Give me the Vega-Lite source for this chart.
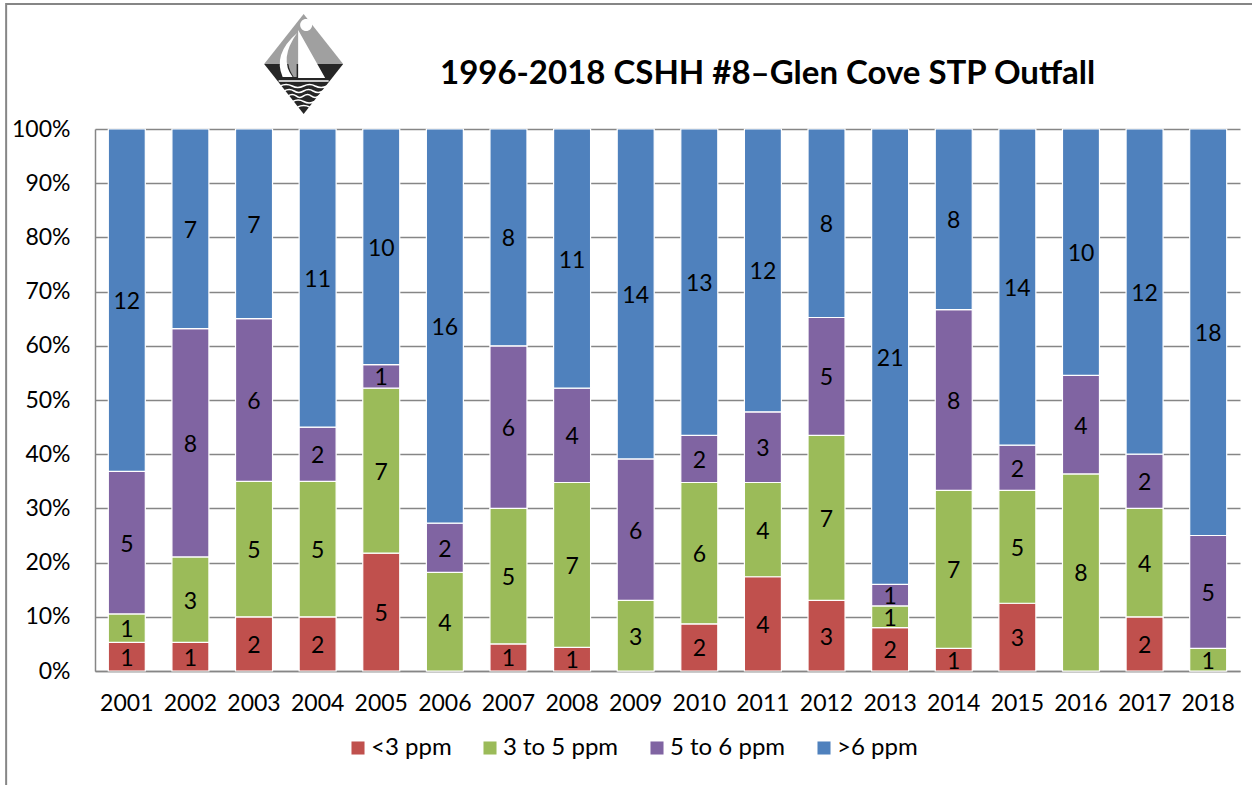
{"$schema":"https://vega.github.io/schema/vega-lite/v6.json","width":1145,"height":542,"autosize":"none","padding":{"left":95,"top":129,"right":12,"bottom":114},"background":"white",
"title":{"text":"1996-2018 CSHH #8–Glen Cove STP Outfall","anchor":"start","frame":"group","dx":345,"offset":-91,"fontSize":33,"font":"Lato","fontWeight":"bold","color":"#000000"},
"config":{"view":{"stroke":null},"font":"Lato"},
"datasets":{"logo":[{"year":"2004","level":1.12}],
"rows":[
{"year":"2001","band":"<3 ppm","rank":1,"count":1},{"year":"2001","band":"3 to 5 ppm","rank":2,"count":1},{"year":"2001","band":"5 to 6 ppm","rank":3,"count":5},{"year":"2001","band":">6 ppm","rank":4,"count":12},
{"year":"2002","band":"<3 ppm","rank":1,"count":1},{"year":"2002","band":"3 to 5 ppm","rank":2,"count":3},{"year":"2002","band":"5 to 6 ppm","rank":3,"count":8},{"year":"2002","band":">6 ppm","rank":4,"count":7},
{"year":"2003","band":"<3 ppm","rank":1,"count":2},{"year":"2003","band":"3 to 5 ppm","rank":2,"count":5},{"year":"2003","band":"5 to 6 ppm","rank":3,"count":6},{"year":"2003","band":">6 ppm","rank":4,"count":7},
{"year":"2004","band":"<3 ppm","rank":1,"count":2},{"year":"2004","band":"3 to 5 ppm","rank":2,"count":5},{"year":"2004","band":"5 to 6 ppm","rank":3,"count":2},{"year":"2004","band":">6 ppm","rank":4,"count":11},
{"year":"2005","band":"<3 ppm","rank":1,"count":5},{"year":"2005","band":"3 to 5 ppm","rank":2,"count":7},{"year":"2005","band":"5 to 6 ppm","rank":3,"count":1},{"year":"2005","band":">6 ppm","rank":4,"count":10},
{"year":"2006","band":"<3 ppm","rank":1,"count":0},{"year":"2006","band":"3 to 5 ppm","rank":2,"count":4},{"year":"2006","band":"5 to 6 ppm","rank":3,"count":2},{"year":"2006","band":">6 ppm","rank":4,"count":16},
{"year":"2007","band":"<3 ppm","rank":1,"count":1},{"year":"2007","band":"3 to 5 ppm","rank":2,"count":5},{"year":"2007","band":"5 to 6 ppm","rank":3,"count":6},{"year":"2007","band":">6 ppm","rank":4,"count":8},
{"year":"2008","band":"<3 ppm","rank":1,"count":1},{"year":"2008","band":"3 to 5 ppm","rank":2,"count":7},{"year":"2008","band":"5 to 6 ppm","rank":3,"count":4},{"year":"2008","band":">6 ppm","rank":4,"count":11},
{"year":"2009","band":"<3 ppm","rank":1,"count":0},{"year":"2009","band":"3 to 5 ppm","rank":2,"count":3},{"year":"2009","band":"5 to 6 ppm","rank":3,"count":6},{"year":"2009","band":">6 ppm","rank":4,"count":14},
{"year":"2010","band":"<3 ppm","rank":1,"count":2},{"year":"2010","band":"3 to 5 ppm","rank":2,"count":6},{"year":"2010","band":"5 to 6 ppm","rank":3,"count":2},{"year":"2010","band":">6 ppm","rank":4,"count":13},
{"year":"2011","band":"<3 ppm","rank":1,"count":4},{"year":"2011","band":"3 to 5 ppm","rank":2,"count":4},{"year":"2011","band":"5 to 6 ppm","rank":3,"count":3},{"year":"2011","band":">6 ppm","rank":4,"count":12},
{"year":"2012","band":"<3 ppm","rank":1,"count":3},{"year":"2012","band":"3 to 5 ppm","rank":2,"count":7},{"year":"2012","band":"5 to 6 ppm","rank":3,"count":5},{"year":"2012","band":">6 ppm","rank":4,"count":8},
{"year":"2013","band":"<3 ppm","rank":1,"count":2},{"year":"2013","band":"3 to 5 ppm","rank":2,"count":1},{"year":"2013","band":"5 to 6 ppm","rank":3,"count":1},{"year":"2013","band":">6 ppm","rank":4,"count":21},
{"year":"2014","band":"<3 ppm","rank":1,"count":1},{"year":"2014","band":"3 to 5 ppm","rank":2,"count":7},{"year":"2014","band":"5 to 6 ppm","rank":3,"count":8},{"year":"2014","band":">6 ppm","rank":4,"count":8},
{"year":"2015","band":"<3 ppm","rank":1,"count":3},{"year":"2015","band":"3 to 5 ppm","rank":2,"count":5},{"year":"2015","band":"5 to 6 ppm","rank":3,"count":2},{"year":"2015","band":">6 ppm","rank":4,"count":14},
{"year":"2016","band":"<3 ppm","rank":1,"count":0},{"year":"2016","band":"3 to 5 ppm","rank":2,"count":8},{"year":"2016","band":"5 to 6 ppm","rank":3,"count":4},{"year":"2016","band":">6 ppm","rank":4,"count":10},
{"year":"2017","band":"<3 ppm","rank":1,"count":2},{"year":"2017","band":"3 to 5 ppm","rank":2,"count":4},{"year":"2017","band":"5 to 6 ppm","rank":3,"count":2},{"year":"2017","band":">6 ppm","rank":4,"count":12},
{"year":"2018","band":"<3 ppm","rank":1,"count":0},{"year":"2018","band":"3 to 5 ppm","rank":2,"count":1},{"year":"2018","band":"5 to 6 ppm","rank":3,"count":5},{"year":"2018","band":">6 ppm","rank":4,"count":18}
]},
"layer":[
{"data":{"name":"rows"},"mark":{"type":"bar","width":37,"stroke":"#ffffff","strokeWidth":1.2},
"encoding":{
"x":{"field":"year","type":"nominal","title":null,"scale":{"paddingInner":0.43,"paddingOuter":0.215},"axis":{"labelAngle":0,"labelFont":"Lato","labelFontSize":23,"labelColor":"#000000","labelPadding":21,"ticks":false,"domainColor":"#868686","domainWidth":1.5,"grid":false}},
"y":{"field":"count","type":"quantitative","stack":"normalize","title":null,"scale":{"domain":[0,1]},"axis":{"values":[0,0.1,0.2,0.3,0.4,0.5,0.6,0.7,0.8,0.9,1],"format":".0%","labelFont":"Lato","labelFontSize":23,"labelColor":"#000000","labelPadding":25,"ticks":false,"domainColor":"#868686","domainWidth":1.5,"grid":true,"gridColor":"#868686","gridWidth":1.5}},
"color":{"field":"band","type":"nominal","title":null,"scale":{"domain":["<3 ppm","3 to 5 ppm","5 to 6 ppm",">6 ppm"],"range":["#C0504D","#9BBB59","#8064A2","#4F81BD"]},
"legend":{"orient":"none","direction":"horizontal","columns":4,"legendX":251,"legendY":607,"symbolType":"square","symbolSize":170,"symbolStrokeWidth":0,"labelFont":"Lato","labelFontSize":24,"labelColor":"#000000","columnPadding":26,"labelOffset":1}},
"order":{"field":"rank","type":"quantitative"}}},
{"data":{"name":"rows"},"transform":[{"filter":"datum.count > 0"}],"mark":{"type":"text","font":"Lato","fontSize":23,"color":"#000000","dy":2},
"encoding":{
"x":{"field":"year","type":"nominal"},
"y":{"field":"count","type":"quantitative","stack":"normalize","bandPosition":0.5},
"detail":{"field":"band"},
"order":{"field":"rank","type":"quantitative"},
"text":{"field":"count","type":"quantitative"}}},
{"data":{"name":"logo"},"mark":{"type":"point","filled":true,"size":10000,"xOffset":-14,"color":"#A0A0A0","opacity":1,"shape":"M0,-1 L0.79,0 L-0.79,0 Z"},"encoding":{"x":{"field":"year","type":"nominal"},"y":{"field":"level","type":"quantitative"}}},
{"data":{"name":"logo"},"mark":{"type":"point","filled":true,"size":10000,"xOffset":-14,"color":"#262626","opacity":1,"shape":"M-0.79,0 L0.79,0 L0,1 Z"},"encoding":{"x":{"field":"year","type":"nominal"},"y":{"field":"level","type":"quantitative"}}},
{"data":{"name":"logo"},"mark":{"type":"point","filled":true,"size":10000,"xOffset":-14,"color":"#A0A0A0","opacity":1,"shape":"M-0.14,-0.6 Q-0.45,-0.1 -0.2,0.26 L-0.14,0.26 Z"},"encoding":{"x":{"field":"year","type":"nominal"},"y":{"field":"level","type":"quantitative"}}},
{"data":{"name":"logo"},"mark":{"type":"point","filled":true,"size":10000,"xOffset":-14,"color":"#FFFFFF","opacity":1,"shape":"M-0.11,-0.68 L0.43,0.28 L-0.11,0.28 Z M-0.13,-0.62 Q-0.62,-0.2 -0.42,0.26 L-0.22,0.26 Q-0.5,-0.1 -0.13,-0.62 Z M0.05,-0.9 A0.12,0.12 0 1 1 0.05,-0.66 A0.12,0.12 0 1 1 0.05,-0.9 Z"},"encoding":{"x":{"field":"year","type":"nominal"},"y":{"field":"level","type":"quantitative"}}},
{"data":{"name":"logo"},"mark":{"type":"point","filled":false,"size":10000,"xOffset":-14,"stroke":"#FFFFFF","strokeWidth":1.6,"opacity":1,"shape":"M-0.5,0.34 L0.5,0.34 M-0.47,0.44 Q-0.35,0.38 -0.23,0.44 Q-0.12,0.5 0,0.44 Q0.12,0.38 0.23,0.44 Q0.35,0.5 0.47,0.44 M-0.39,0.54 Q-0.29,0.48 -0.19,0.54 Q-0.1,0.6 0,0.54 Q0.1,0.48 0.19,0.54 Q0.29,0.6 0.39,0.54 M-0.31,0.64 Q-0.23,0.58 -0.15,0.64 Q-0.08,0.7 0,0.64 Q0.08,0.58 0.15,0.64 Q0.23,0.7 0.31,0.64 M-0.22,0.75 Q-0.11,0.69 0,0.75 Q0.11,0.81 0.22,0.75 M-0.12,0.86 Q0,0.8 0.12,0.86"},"encoding":{"x":{"field":"year","type":"nominal"},"y":{"field":"level","type":"quantitative"}}},
{"data":{"name":"logo"},"mark":{"type":"point","filled":false,"size":10000,"xOffset":-14,"stroke":"#868686","strokeWidth":2,"opacity":1,"shape":"M-5.95,14.5 L-5.95,-1.2 L19.1,-1.2"},"encoding":{"x":{"field":"year","type":"nominal"},"y":{"field":"level","type":"quantitative"}}}
]}
